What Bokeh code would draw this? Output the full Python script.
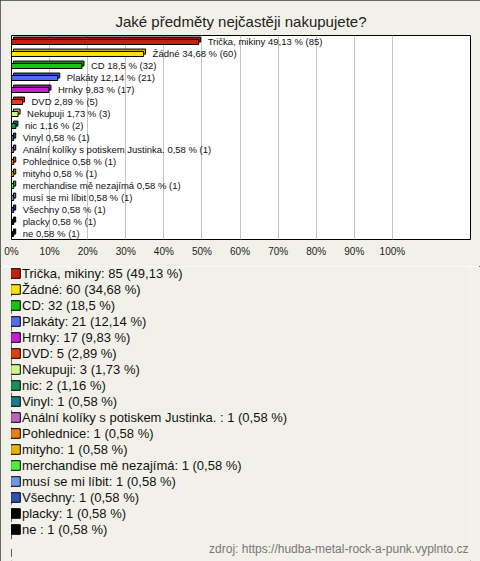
from bokeh.plotting import figure
from bokeh.layouts import column
from bokeh.models import (FactorRange, Range1d, FixedTicker, CustomJSTickFormatter,
                          Legend, LegendItem, Label, ColumnDataSource)
from bokeh.transform import dodge
from bokeh.core.properties import value
from bokeh.embed import file_html
from bokeh.resources import INLINE

title_text = "Jaké předměty nejčastěji nakupujete?"
source_text = "zdroj: https://hudba-metal-rock-a-punk.vyplnto.cz"

categories = ["Trička, mikiny", "Žádné", "CD", "Plakáty", "Hrnky", "DVD", "Nekupuji", "nic",
              "Vinyl", "Anální kolíky s potiskem Justinka. ", "Pohlednice", "mityho",
              "merchandise mě nezajímá", "musí se mi líbit", "Všechny", "placky", "ne "]
counts = [85, 60, 32, 21, 17, 5, 3, 2, 1, 1, 1, 1, 1, 1, 1, 1, 1]
percents = [49.13, 34.68, 18.5, 12.14, 9.83, 2.89, 1.73, 1.16, 0.58, 0.58, 0.58, 0.58,
            0.58, 0.58, 0.58, 0.58, 0.58]
colors = ["#c8200e", "#ffe000", "#16c416", "#4d6ff0", "#c51fd0", "#e0400e", "#ccf98a",
          "#1a9058", "#1c7a8e", "#c062bf", "#ec7e12", "#e8b400", "#4ff03c", "#6d98e6",
          "#2c52b4", "#000000", "#000000"]
tick_values = [0, 10, 20, 30, 40, 50, 60, 70, 80, 90, 100]

BG = "#f2f1e9"
FONT = "Liberation Sans"


def darker(hexcol, f=0.78):
    r, g, b = (int(hexcol[i:i + 2], 16) for i in (1, 3, 5))
    return "#%02x%02x%02x" % (int(r * f), int(g * f), int(b * f))


def pct_str(v):
    return ("%g" % v).replace(".", ",")


bar_labels = [f"{c} {pct_str(p)} % ({n})" for c, p, n in zip(categories, percents, counts)]
legend_labels = [f"{c}: {n} ({pct_str(p)} %)" for c, p, n in zip(categories, percents, counts)]

DX = 0.53  # 3D depth offset (percent units ~ 2px)
src = ColumnDataSource(dict(
    cat=categories,
    pct=percents,
    back_right=[p + DX for p in percents],
    color=colors,
    dark=[darker(c) for c in colors],
    label=bar_labels,
))

# ---------------- bar chart ----------------
p = figure(width=480, height=266, output_backend="svg", toolbar_location=None,
           x_range=Range1d(0, 120.5), y_range=FactorRange(factors=categories[::-1]),
           min_border_left=11, min_border_right=10, min_border_top=35, min_border_bottom=27,
           background_fill_color="white", border_fill_color=BG,
           outline_line_color="black", outline_line_width=1)

p.title.text = title_text
p.title.align = "center"
p.title.vertical_align = "middle"
p.title.text_font = FONT
p.title.text_font_size = "15px"
p.title.text_font_style = "normal"
p.title.text_color = "#222222"
p.title.standoff = 10

p.yaxis.visible = False
xa = p.xaxis[0]
xa.ticker = FixedTicker(ticks=tick_values)
xa.formatter = CustomJSTickFormatter(code="return tick + '%';")
xa.major_tick_line_color = None
xa.minor_tick_line_color = None
xa.major_tick_out = 0
xa.major_tick_in = 0
xa.axis_line_color = None
xa.major_label_text_font = FONT
xa.major_label_text_font_size = "10px"
xa.major_label_text_color = "#222222"
xa.major_label_standoff = 6

p.xgrid.ticker = FixedTicker(ticks=tick_values)
p.xgrid.grid_line_color = "#c4c4c4"
p.ygrid.grid_line_color = None

p.hbar(y=dodge("cat", 0.16, range=p.y_range), left=DX, right="back_right", height=0.42,
       fill_color="dark", line_color="black", line_width=1, source=src)
p.hbar(y=dodge("cat", -0.04, range=p.y_range), left=0, right="pct", height=0.42,
       fill_color="color", line_color="black", line_width=1, source=src)
p.text(x="pct", y=dodge("cat", 0.0, range=p.y_range), text="label", x_offset=9,
       text_baseline="middle", text_align="left", text_font_size="9.5px",
       text_font=value(FONT), text_color="#111111", source=src)

# ---------------- legend panel ----------------
# x range lies beyond all data, so the proxy bars only feed the legend swatches
q = figure(width=480, height=295, output_backend="svg", toolbar_location=None,
           x_range=Range1d(1000, 1001), y_range=FactorRange(factors=categories[::-1]),
           min_border_left=0, min_border_right=0, min_border_top=0, min_border_bottom=0,
           background_fill_color=BG, border_fill_color=BG, outline_line_color=None)
q.xaxis.visible = False
q.yaxis.visible = False
q.xgrid.visible = False
q.ygrid.visible = False

proxy = q.hbar(y="cat", left=0, right="pct", height=0.42,
               fill_color="color", line_color="black", line_width=1, source=src)

items = [LegendItem(label=legend_labels[i], renderers=[proxy], index=i) for i in range(len(categories))]
legend = Legend(items=items, location=(-2, 24), orientation="vertical",
                glyph_width=12, glyph_height=12, label_height=16, spacing=0,
                padding=0, margin=0, label_standoff=1,
                label_text_font=FONT, label_text_font_size="13px", label_text_color="#111111",
                border_line_color=None, background_fill_alpha=0)
q.add_layout(legend, "center")

q.add_layout(Label(x=457, y=13, x_units="screen", y_units="screen", text=source_text,
                   text_align="right", text_baseline="middle", text_font=FONT,
                   text_font_size="12px", text_color="#777777"))

layout = column(p, q, spacing=0,
                styles={"outline": "1px solid #3a3a3a", "outline-offset": "-1px"})

open("out.html", "w").write(file_html(layout, INLINE))
